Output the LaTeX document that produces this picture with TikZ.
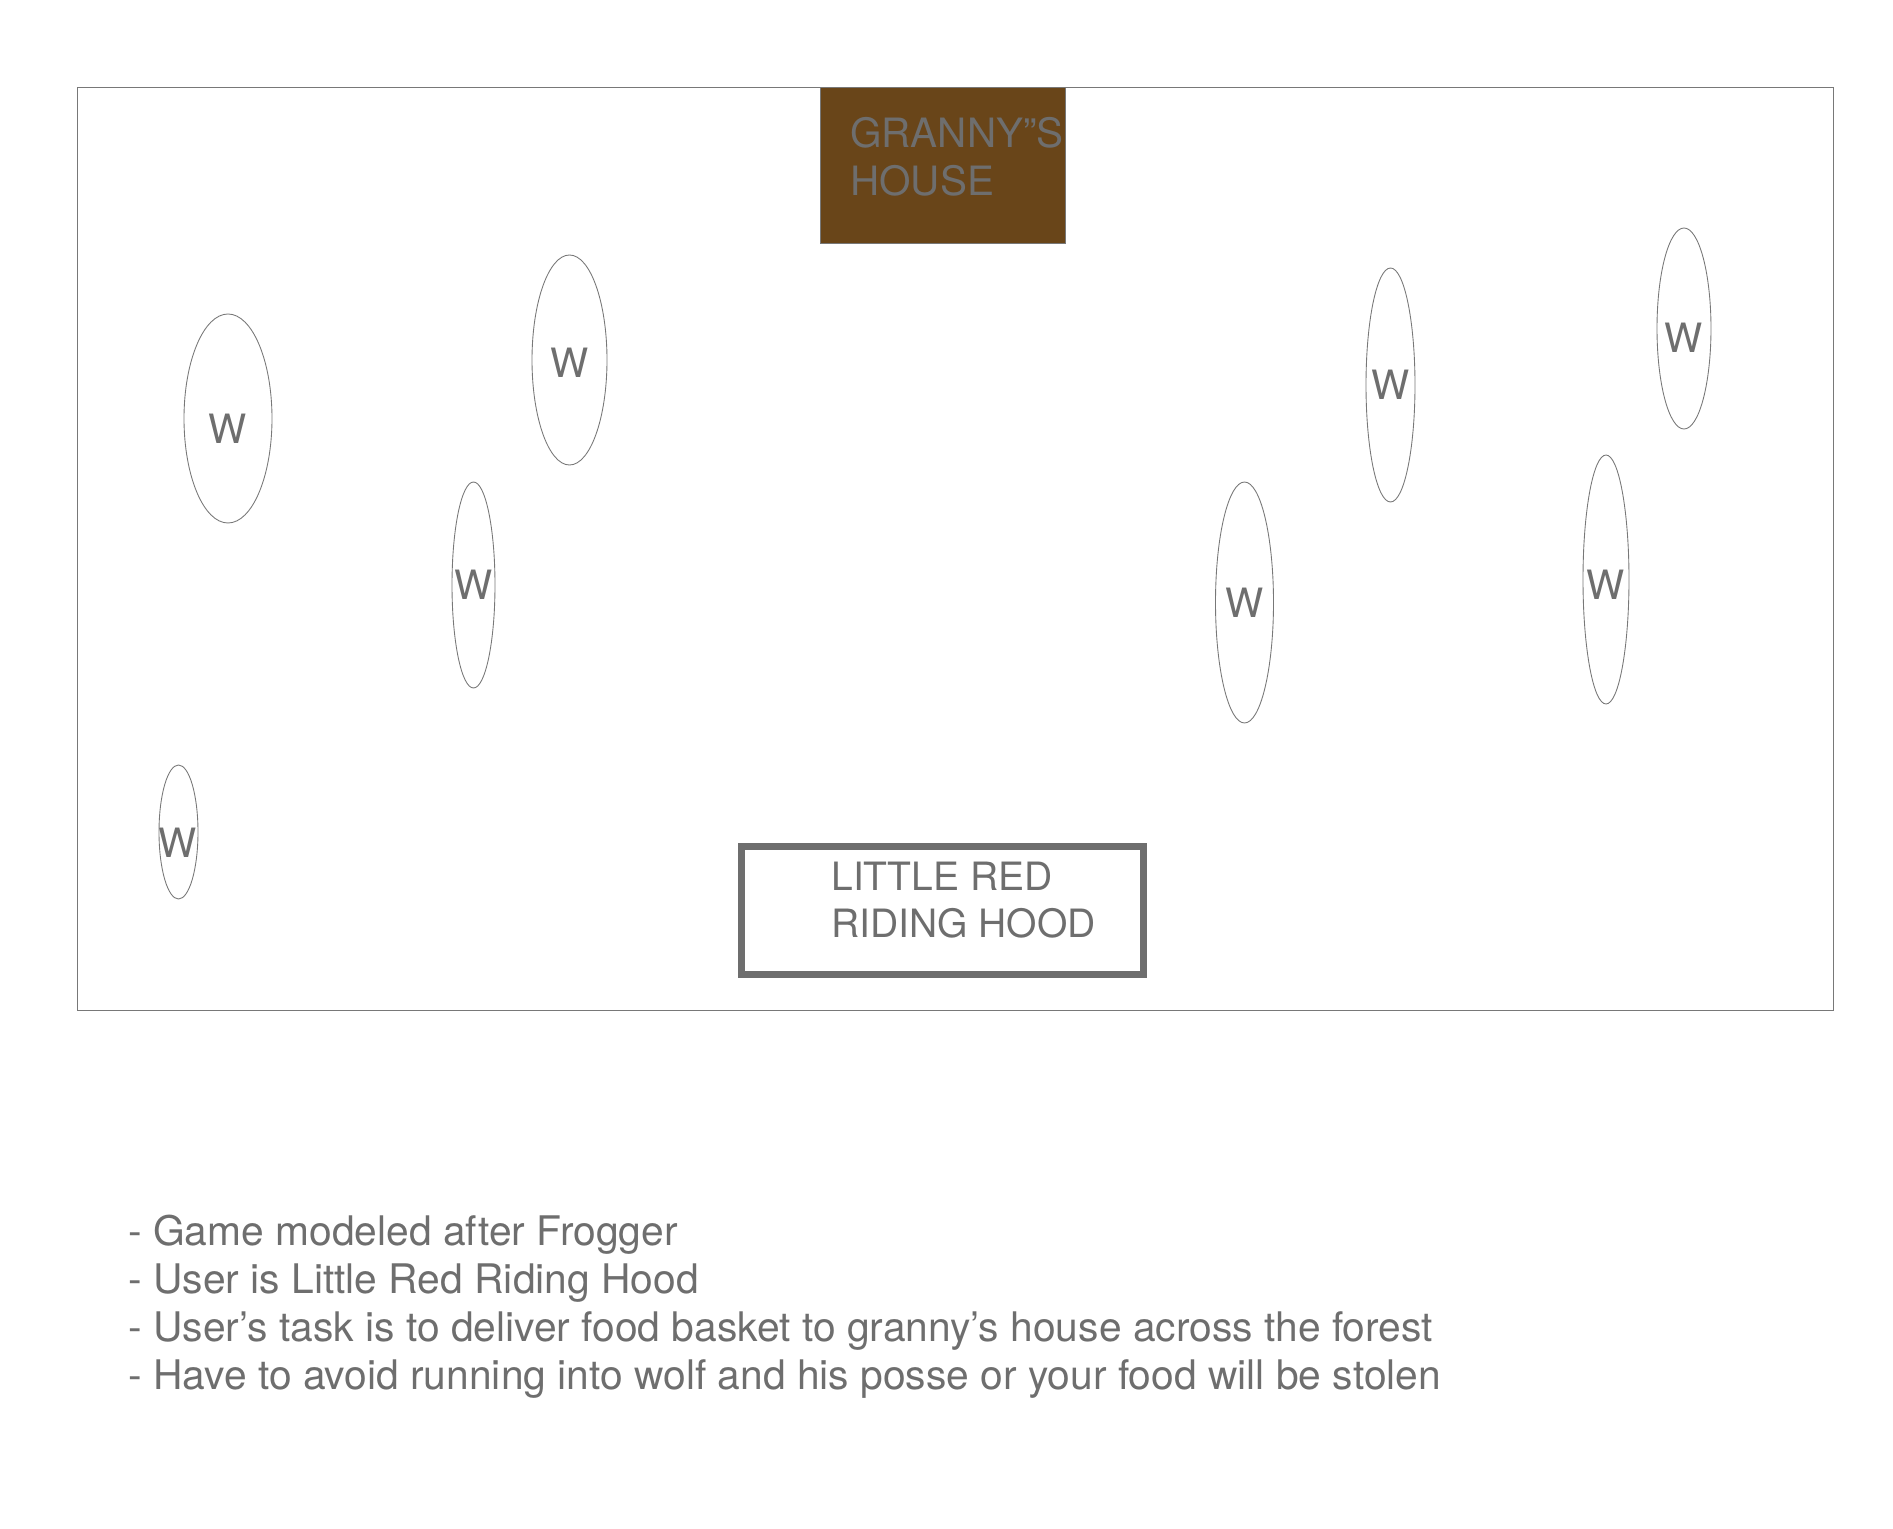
\documentclass[tikz,border=0pt]{standalone}
\usepackage{fontspec}
\setmainfont{TeX Gyre Heros}
\definecolor{TextGray}{RGB}{110,110,110}
\definecolor{LineGray}{RGB}{120,120,120}
\definecolor{HouseBrown}{RGB}{105,69,25}

\begin{document}
\begin{tikzpicture}[
    every node/.style={text=TextGray},
    txt/.style={inner sep=0pt, align=left, font=\fontsize{23}{27.2}\selectfont},
    wtext/.style={inner sep=0pt, font=\fontsize{23}{27.2}\selectfont},
    frame/.style={draw=LineGray, line width=0.55pt},
    wolfline/.style={draw=LineGray, line width=0.5pt},
    hero/.style={draw=TextGray, line width=4pt},
]
\useasboundingbox (0,0) rectangle (37.86,-30.58);

% --- forest ---
\draw[frame] (1.54,-1.74) rectangle (36.66,-20.20);

% --- granny's house (top) ---
\draw[frame, fill=HouseBrown] (16.40,-1.74) rectangle (21.30,-4.86);
\node[txt, anchor=north west] (granny) at (17.00,-2.34) {GRANNY”S\\HOUSE};

% --- little red riding hood (bottom) ---
\draw[hero] (14.83,-16.93) rectangle (22.87,-19.49);
\node[txt, anchor=north west, font=\fontsize{22.2}{26.8}\selectfont] (lrrh) at (16.62,-17.24)
    {LITTLE RED\\RIDING HOOD};

% --- wolves, left side ---
\draw[wolfline] (4.56,-8.37) ellipse [x radius=0.88, y radius=2.09];
\node[wtext] (w1) at (4.56,-8.57) {W};
\draw[wolfline] (11.39,-7.20) ellipse [x radius=0.75, y radius=2.10];
\node[wtext] (w2) at (11.39,-7.26) {W};
\draw[wolfline] (9.47,-11.70) ellipse [x radius=0.43, y radius=2.06];
\node[wtext] (w3) at (9.47,-11.70) {W};
\draw[wolfline] (3.57,-16.64) ellipse [x radius=0.39, y radius=1.34];
\node[wtext] (w4) at (3.55,-16.86) {W};

% --- wolves, right side ---
\draw[wolfline] (24.89,-12.05) ellipse [x radius=0.58, y radius=2.41];
\node[wtext] (w5) at (24.89,-12.06) {W};
\draw[wolfline] (27.81,-7.70) ellipse [x radius=0.49, y radius=2.34];
\node[wtext] (w6) at (27.81,-7.70) {W};
\draw[wolfline] (33.68,-6.57) ellipse [x radius=0.54, y radius=2.01];
\node[wtext] (w7) at (33.68,-6.75) {W};
\draw[wolfline] (32.12,-11.59) ellipse [x radius=0.46, y radius=2.49];
\node[wtext] (w8) at (32.12,-11.70) {W};

% --- notes ---
\node[txt, anchor=north west, font=\fontsize{23.2}{27.2}\selectfont] (notes) at (2.56,-24.30)
    {- Game modeled after Frogger\\
     - User is Little Red Riding Hood\\
     - User’s task is to deliver food basket to granny’s house across the forest\\
     - Have to avoid running into wolf and his posse or your food will be stolen};

\end{tikzpicture}
\end{document}
